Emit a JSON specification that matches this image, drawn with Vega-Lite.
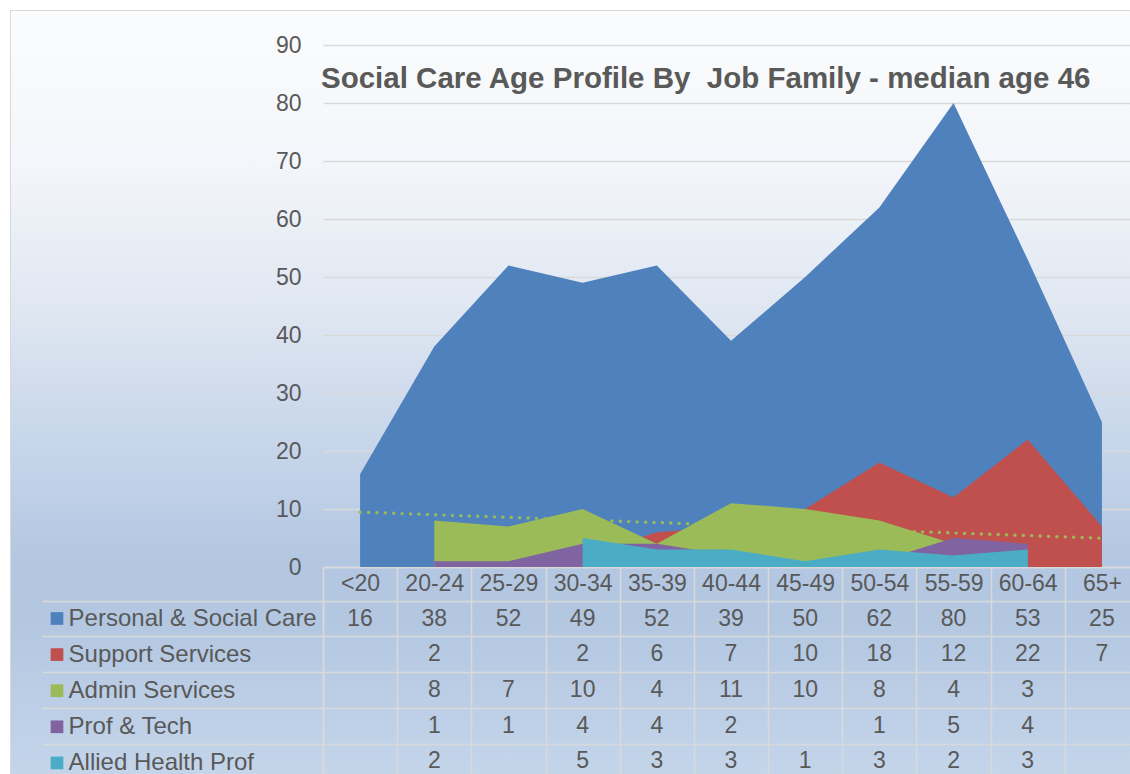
{
  "$schema": "https://vega.github.io/schema/vega-lite/v6.json",
  "width": 1120,
  "height": 764,
  "autosize": {"type": "none"},
  "padding": {"left": 10, "top": 10, "right": 0, "bottom": 0},
  "background": "#ffffff",
  "view": {
    "fill": {
      "gradient": "linear", "x1": 0, "y1": 0, "x2": 0, "y2": 1,
      "stops": [
        {"offset": 0, "color": "#fbfcfd"},
        {"offset": 0.2, "color": "#f3f6fa"},
        {"offset": 0.38, "color": "#e1e8f2"},
        {"offset": 0.54, "color": "#cad8eb"},
        {"offset": 0.72, "color": "#b3c7e2"},
        {"offset": 0.8, "color": "#b3c7e1"},
        {"offset": 1, "color": "#c4d5ea"}
      ]
    },
    "stroke": "#d9d9d9",
    "strokeWidth": 1
  },
  "config": {"font": "Liberation Sans"},
  "title": {
    "text": "Social Care Age Profile By \u00a0Job Family - median age 46",
    "orient": "top",
    "anchor": "start",
    "frame": "group",
    "offset": -84,
    "dx": 311,
    "font": "Liberation Sans",
    "fontSize": 29.5,
    "fontWeight": "bold",
    "color": "#595959"
  },
  "datasets": {
    "rows": [
      {"age": "<20", "series": "Personal & Social Care", "value": 16},
      {"age": "20-24", "series": "Personal & Social Care", "value": 38},
      {"age": "25-29", "series": "Personal & Social Care", "value": 52},
      {"age": "30-34", "series": "Personal & Social Care", "value": 49},
      {"age": "35-39", "series": "Personal & Social Care", "value": 52},
      {"age": "40-44", "series": "Personal & Social Care", "value": 39},
      {"age": "45-49", "series": "Personal & Social Care", "value": 50},
      {"age": "50-54", "series": "Personal & Social Care", "value": 62},
      {"age": "55-59", "series": "Personal & Social Care", "value": 80},
      {"age": "60-64", "series": "Personal & Social Care", "value": 53},
      {"age": "65+", "series": "Personal & Social Care", "value": 25},
      {"age": "<20", "series": "Support Services", "value": null},
      {"age": "20-24", "series": "Support Services", "value": 2},
      {"age": "25-29", "series": "Support Services", "value": null},
      {"age": "30-34", "series": "Support Services", "value": 2},
      {"age": "35-39", "series": "Support Services", "value": 6},
      {"age": "40-44", "series": "Support Services", "value": 7},
      {"age": "45-49", "series": "Support Services", "value": 10},
      {"age": "50-54", "series": "Support Services", "value": 18},
      {"age": "55-59", "series": "Support Services", "value": 12},
      {"age": "60-64", "series": "Support Services", "value": 22},
      {"age": "65+", "series": "Support Services", "value": 7},
      {"age": "<20", "series": "Admin Services", "value": null},
      {"age": "20-24", "series": "Admin Services", "value": 8},
      {"age": "25-29", "series": "Admin Services", "value": 7},
      {"age": "30-34", "series": "Admin Services", "value": 10},
      {"age": "35-39", "series": "Admin Services", "value": 4},
      {"age": "40-44", "series": "Admin Services", "value": 11},
      {"age": "45-49", "series": "Admin Services", "value": 10},
      {"age": "50-54", "series": "Admin Services", "value": 8},
      {"age": "55-59", "series": "Admin Services", "value": 4},
      {"age": "60-64", "series": "Admin Services", "value": 3},
      {"age": "65+", "series": "Admin Services", "value": null},
      {"age": "<20", "series": "Prof & Tech", "value": null},
      {"age": "20-24", "series": "Prof & Tech", "value": 1},
      {"age": "25-29", "series": "Prof & Tech", "value": 1},
      {"age": "30-34", "series": "Prof & Tech", "value": 4},
      {"age": "35-39", "series": "Prof & Tech", "value": 4},
      {"age": "40-44", "series": "Prof & Tech", "value": 2},
      {"age": "45-49", "series": "Prof & Tech", "value": null},
      {"age": "50-54", "series": "Prof & Tech", "value": 1},
      {"age": "55-59", "series": "Prof & Tech", "value": 5},
      {"age": "60-64", "series": "Prof & Tech", "value": 4},
      {"age": "65+", "series": "Prof & Tech", "value": null},
      {"age": "<20", "series": "Allied Health Prof", "value": null},
      {"age": "20-24", "series": "Allied Health Prof", "value": 2},
      {"age": "25-29", "series": "Allied Health Prof", "value": null},
      {"age": "30-34", "series": "Allied Health Prof", "value": 5},
      {"age": "35-39", "series": "Allied Health Prof", "value": 3},
      {"age": "40-44", "series": "Allied Health Prof", "value": 3},
      {"age": "45-49", "series": "Allied Health Prof", "value": 1},
      {"age": "50-54", "series": "Allied Health Prof", "value": 3},
      {"age": "55-59", "series": "Allied Health Prof", "value": 2},
      {"age": "60-64", "series": "Allied Health Prof", "value": 3},
      {"age": "65+", "series": "Allied Health Prof", "value": null}
    ],
    "trend": [
      {"age": "<20", "trend": 9.47},
      {"age": "65+", "trend": 4.97}
    ]
  },
  "layer": [
    {
      "data": {"name": "rows"},
      "encoding": {
        "x": {
          "field": "age", "type": "nominal", "bandPosition": 0.5,
          "scale": {"type": "band", "domain": ["<20","20-24","25-29","30-34","35-39","40-44","45-49","50-54","55-59","60-64","65+"], "range": [313, 1129], "paddingInner": 0, "paddingOuter": 0},
          "axis": {
            "orient": "bottom", "offset": -207, "title": null, "grid": false,
            "domain": true, "domainColor": "#d9d9d9", "domainWidth": 1.5,
            "ticks": true, "tickBand": "extent", "tickSize": 33.7, "tickColor": "#d9d9d9", "tickWidth": 1.5,
            "labelAngle": 0, "labelPadding": -16.85, "labelBaseline": "middle", "labelFontSize": 23,
            "labelColor": "#595959", "labelFont": "Liberation Sans", "labelOverlap": false
          }
        },
        "y": {
          "field": "value", "type": "quantitative",
          "scale": {"domain": [0, 90], "range": [557, 35], "nice": false, "zero": true},
          "axis": {
            "orient": "left", "offset": -313, "title": null, "domain": false, "ticks": false,
            "values": [0, 10, 20, 30, 40, 50, 60, 70, 80, 90],
            "labelPadding": 22, "labelFontSize": 23, "labelColor": "#595959", "labelFont": "Liberation Sans",
            "labelOverlap": false,
            "grid": true, "gridColor": "#d9d9d9", "gridWidth": 1.5
          }
        },
        "color": {
          "field": "series", "type": "nominal",
          "scale": {
            "domain": ["Personal & Social Care", "Support Services", "Admin Services", "Prof & Tech", "Allied Health Prof"],
            "range": ["#4f81bd", "#c0504d", "#9bbb59", "#8064a2", "#4bacc6"]
          },
          "legend": {
            "orient": "none", "legendX": 35, "legendY": 596.5, "title": null, "direction": "vertical",
            "symbolType": "square", "symbolSize": 161, "symbolStrokeWidth": 0, "symbolOpacity": 1,
            "labelFontSize": 24, "labelColor": "#595959", "labelFont": "Liberation Sans", "labelLimit": 400,
            "rowPadding": 12.1, "labelOffset": -0.4, "padding": 0
          }
        }
      },
      "layer": [
        {
          "transform": [{"filter": "datum.series === 'Personal & Social Care'"}],
          "mark": {"type": "area", "opacity": 1, "invalid": "break-paths-show-domains"}
        },
        {
          "transform": [{"filter": "datum.series === 'Support Services'"}],
          "mark": {"type": "area", "opacity": 1, "invalid": "break-paths-show-domains"}
        },
        {
          "data": {"name": "trend"},
          "mark": {"type": "line", "strokeWidth": 3.3, "strokeCap": "round", "strokeDash": [0.1, 8.3]},
          "encoding": {
            "y": {"field": "trend", "type": "quantitative"},
            "color": {"value": "#9bbb59"}
          }
        },
        {
          "transform": [{"filter": "datum.series === 'Admin Services'"}],
          "mark": {"type": "area", "opacity": 1, "invalid": "break-paths-show-domains"}
        },
        {
          "transform": [{"filter": "datum.series === 'Prof & Tech'"}],
          "mark": {"type": "area", "opacity": 1, "invalid": "break-paths-show-domains"}
        },
        {
          "transform": [{"filter": "datum.series === 'Allied Health Prof'"}],
          "mark": {"type": "area", "opacity": 1, "invalid": "break-paths-show-domains"}
        }
      ]
    },
    {
      "data": {"name": "rows"},
      "transform": [{"filter": "isValid(datum.value)"}],
      "mark": {"type": "text", "fontSize": 23, "font": "Liberation Sans", "color": "#595959"},
      "encoding": {
        "x": {
          "field": "age", "type": "nominal",
          "scale": {"type": "band", "domain": ["<20","20-24","25-29","30-34","35-39","40-44","45-49","50-54","55-59","60-64","65+"], "range": [313, 1129], "paddingInner": 0, "paddingOuter": 0},
          "axis": {
            "orient": "top", "title": null, "labels": false, "ticks": false, "domain": false,
            "tickBand": "extent", "grid": true, "gridColor": "#d9d9d9", "gridWidth": 1.5
          }
        },
        "y": {
          "field": "series", "type": "nominal",
          "scale": {"type": "band", "domain": ["Personal & Social Care", "Support Services", "Admin Services", "Prof & Tech", "Allied Health Prof"], "range": [590.7, 769.2], "paddingInner": 0, "paddingOuter": 0},
          "axis": {
            "orient": "left", "offset": -313, "title": null, "labels": false,
            "ticks": true, "tickBand": "extent", "tickSize": 281, "tickColor": "#d9d9d9", "tickWidth": 1.5,
            "domain": true, "domainColor": "#d9d9d9", "domainWidth": 1.5,
            "grid": true, "gridColor": "#d9d9d9", "gridWidth": 1.5
          }
        },
        "text": {"field": "value", "type": "quantitative"}
      }
    }
  ],
  "resolve": {
    "scale": {"y": "independent"},
    "axis": {"x": "independent", "y": "independent"}
  }
}
